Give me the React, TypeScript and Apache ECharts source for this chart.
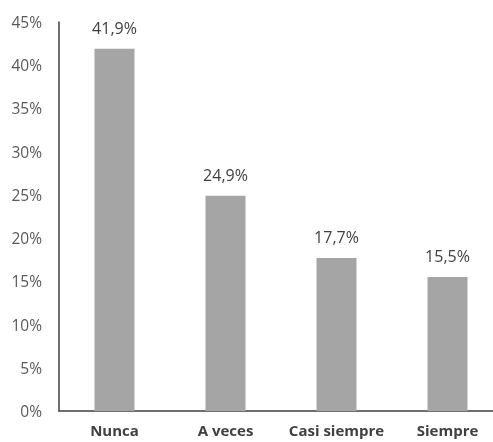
import React, { useEffect, useRef } from "react";
import * as echarts from "echarts";

const categories = ["Nunca", "A veces", "Casi siempre", "Siempre"];
const values = [41.9, 24.9, 17.7, 15.5];
const yTicks = [0, 5, 10, 15, 20, 25, 30, 35, 40, 45];

export default function App() {
  const ref = useRef<HTMLDivElement>(null);
  useEffect(() => {
    if (!ref.current) return;
    const chart = echarts.init(ref.current, null, { renderer: "svg" });
    chart.setOption({
      animation: false,
      grid: { left: 59, top: 22, right: 0, bottom: 31, containLabel: false },
      xAxis: {
        type: "category",
        data: categories,
        axisLine: { show: true, lineStyle: { color: "#404040", width: 1.5 } },
        axisTick: { show: false },
        axisLabel: {
          color: "#404040",
          fontFamily: "Open Sans",
          fontWeight: "bold",
          fontSize: 15,
          margin: 11,
          interval: 0,
        },
      },
      yAxis: {
        type: "value",
        min: 0,
        max: yTicks[yTicks.length - 1],
        interval: 5,
        axisLine: { show: true, lineStyle: { color: "#404040", width: 1.5 } },
        axisTick: { show: false },
        splitLine: { show: false },
        axisLabel: {
          color: "#595959",
          fontFamily: "Open Sans",
          fontSize: 15.5,
          margin: 17,
          formatter: (v: number) => `${v}%`,
        },
      },
      series: [
        {
          type: "bar",
          data: values,
          barWidth: 40,
          itemStyle: { color: "#a5a5a5" },
          label: {
            show: true,
            position: "top",
            distance: 13,
            color: "#404040",
            fontFamily: "Open Sans",
            fontSize: 16,
            formatter: (p: any) => `${p.value.toFixed(1).replace(".", ",")}%`,
          },
        },
      ],
    });
    return () => chart.dispose();
  }, []);
  return (
    <div style={{ width: 493, height: 442, position: "fixed", left: 0, top: 0, overflow: "hidden" }}>
      <div ref={ref} style={{ width: 503, height: 442 }} />
    </div>
  );
}
